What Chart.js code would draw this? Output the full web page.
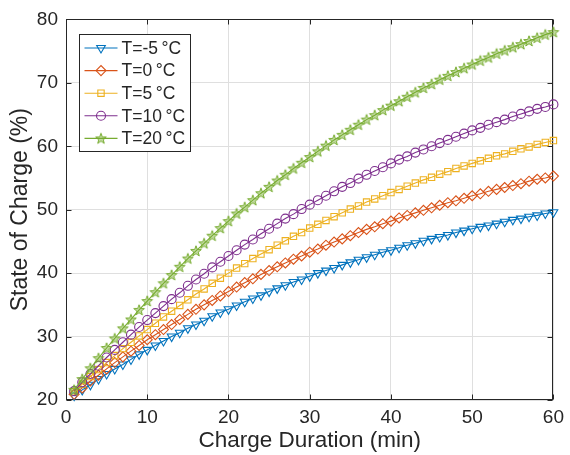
<!DOCTYPE html>
<html>
<head>
<meta charset="utf-8">
<script src="https://cdn.jsdelivr.net/npm/chart.js@4.4.1/dist/chart.umd.min.js"></script>
<style>
  html, body { margin: 0; padding: 0; background: #fff; }
  #wrap { width: 570px; height: 455px; position: relative; }
</style>
</head>
<body>
<div id="wrap"><canvas id="soc"></canvas></div>
<script>
// charge duration (min) and state of charge (%) per temperature
const minutes = [1, 2, 3, 4, 5, 6, 7, 8, 9, 10, 11, 12, 13, 14, 15, 16, 17, 18, 19, 20,
  21, 22, 23, 24, 25, 26, 27, 28, 29, 30, 31, 32, 33, 34, 35, 36, 37, 38, 39, 40,
  41, 42, 43, 44, 45, 46, 47, 48, 49, 50, 51, 52, 53, 54, 55, 56, 57, 58, 59, 60];

const socMinus5 = [20.7, 21.6, 22.4, 23.3, 24.1, 24.9, 25.6, 26.4, 27.2, 27.9, 28.6, 29.3, 30.0, 30.6, 31.3, 31.9, 32.5, 33.2, 33.8, 34.3,
  34.9, 35.5, 36.0, 36.5, 37.1, 37.6, 38.1, 38.6, 39.0, 39.5, 40.0, 40.4, 40.8, 41.3, 41.7, 42.1, 42.5, 42.9, 43.3, 43.6,
  44.0, 44.4, 44.7, 45.1, 45.4, 45.7, 46.0, 46.4, 46.7, 47.0, 47.3, 47.5, 47.8, 48.1, 48.4, 48.6, 48.9, 49.1, 49.4, 49.6];

const soc0 = [20.9, 21.9, 23.0, 23.9, 24.9, 25.9, 26.8, 27.7, 28.6, 29.5, 30.3, 31.1, 31.9, 32.7, 33.5, 34.3, 35.0, 35.7, 36.4, 37.1,
  37.8, 38.5, 39.1, 39.8, 40.4, 41.0, 41.6, 42.2, 42.7, 43.3, 43.8, 44.4, 44.9, 45.4, 45.9, 46.4, 46.9, 47.3, 47.8, 48.2,
  48.7, 49.1, 49.5, 49.9, 50.3, 50.7, 51.1, 51.4, 51.8, 52.2, 52.5, 52.9, 53.2, 53.5, 53.8, 54.1, 54.5, 54.8, 55.0, 55.3];

const soc5 = [21.3, 22.5, 23.7, 24.8, 25.9, 27.0, 28.1, 29.1, 30.1, 31.1, 32.1, 33.1, 34.0, 34.9, 35.8, 36.7, 37.5, 38.4, 39.2, 40.0,
  40.8, 41.5, 42.3, 43.0, 43.7, 44.4, 45.1, 45.8, 46.4, 47.1, 47.7, 48.3, 48.9, 49.5, 50.1, 50.6, 51.2, 51.7, 52.2, 52.7,
  53.2, 53.7, 54.2, 54.7, 55.1, 55.6, 56.0, 56.5, 56.9, 57.3, 57.7, 58.1, 58.5, 58.8, 59.2, 59.6, 59.9, 60.3, 60.6, 60.9];

const soc10 = [21.4, 22.8, 24.1, 25.4, 26.7, 27.9, 29.1, 30.3, 31.5, 32.6, 33.7, 34.8, 35.9, 36.9, 38.0, 39.0, 39.9, 40.9, 41.8, 42.7,
  43.6, 44.5, 45.3, 46.2, 47.0, 47.8, 48.6, 49.3, 50.1, 50.8, 51.5, 52.2, 52.9, 53.6, 54.2, 54.9, 55.5, 56.1, 56.7, 57.3,
  57.9, 58.4, 59.0, 59.5, 60.0, 60.5, 61.0, 61.5, 62.0, 62.5, 62.9, 63.4, 63.8, 64.2, 64.7, 65.1, 65.5, 65.9, 66.2, 66.6];

const soc20 = [21.6, 23.3, 25.0, 26.6, 28.2, 29.7, 31.3, 32.7, 34.2, 35.6, 37.0, 38.4, 39.7, 41.0, 42.3, 43.5, 44.7, 45.9, 47.1, 48.2,
  49.4, 50.4, 51.5, 52.6, 53.6, 54.6, 55.5, 56.5, 57.4, 58.3, 59.2, 60.1, 61.0, 61.8, 62.6, 63.4, 64.2, 64.9, 65.7, 66.4,
  67.1, 67.8, 68.5, 69.2, 69.8, 70.5, 71.1, 71.7, 72.3, 72.9, 73.5, 74.0, 74.6, 75.1, 75.6, 76.1, 76.6, 77.1, 77.6, 78.0];

const seriesLabels = ['T=-5\u2009°C', 'T=0\u2009°C', 'T=5\u2009°C', 'T=10\u2009°C', 'T=20\u2009°C'];
const xTicks = [0, 10, 20, 30, 40, 50, 60];
const yTicks = [20, 30, 40, 50, 60, 70, 80];

const FONT = '"Liberation Sans", Arial, Helvetica, sans-serif';
const AXIS_COLOR = '#262626';
const GRID_COLOR = '#dfdfdf';
const NONE = 'rgba(0,0,0,0)';

// matlab style pentagram, chart.js only has the asterisk one
function pentagram(color) {
  const c = document.createElement('canvas');
  c.width = 14;
  c.height = 14;
  const g = c.getContext('2d');
  g.beginPath();
  for (let i = 0; i < 10; i++) {
    const r = i % 2 === 0 ? 5.6 : 2.3;
    const a = -Math.PI / 2 + i * Math.PI / 5;
    const px = 7 + r * Math.cos(a);
    const py = 7.4 + r * Math.sin(a);
    if (i === 0) g.moveTo(px, py); else g.lineTo(px, py);
  }
  g.closePath();
  g.fillStyle = 'rgba(119,172,48,0.45)';
  g.fill();
  g.strokeStyle = color;
  g.lineWidth = 1;
  g.stroke();
  return c;
}

const toPoints = (ys) => minutes.map((m, i) => ({ x: m, y: ys[i] }));

function series(label, ys, color, style, radius, rotation) {
  return {
    label,
    data: toPoints(ys),
    borderColor: color,
    backgroundColor: color,
    borderWidth: 1.1,
    pointStyle: style,
    pointRadius: radius,
    pointRotation: rotation || 0,
    pointBorderColor: color,
    pointBackgroundColor: NONE,
    pointBorderWidth: 1.1,
    tension: 0,
    fill: false,
    clip: false
  };
}

const datasets = [
  series(seriesLabels[0], socMinus5, '#0072BD', 'triangle', 5, 180),
  series(seriesLabels[1], soc0, '#D95319', 'rectRot', 5),
  series(seriesLabels[2], soc5, '#EDB120', 'rect', 4.5),
  series(seriesLabels[3], soc10, '#7E2F8E', 'circle', 4.5),
  series(seriesLabels[4], soc20, '#77AC30', pentagram('#77AC30'), 5)
];
// later series on top, like matlab
datasets.forEach((d, i) => { d.order = datasets.length - i; });

// full box with inward ticks
const axesBox = {
  id: 'axesBox',
  beforeDatasetsDraw(chart) {
    const { ctx, chartArea: a, scales } = chart;
    const L = Math.round(a.left) + 0.5, R = Math.round(a.right) - 0.5;
    const T = Math.round(a.top) + 0.5, B = Math.round(a.bottom) - 0.5;
    const tl = 5;
    ctx.save();
    ctx.strokeStyle = AXIS_COLOR;
    ctx.lineWidth = 1;
    ctx.strokeRect(L, T, R - L, B - T);
    ctx.beginPath();
    xTicks.forEach(v => {
      const px = Math.round(scales.x.getPixelForValue(v)) + 0.5;
      ctx.moveTo(px, B); ctx.lineTo(px, B - tl);
      ctx.moveTo(px, T); ctx.lineTo(px, T + tl);
    });
    yTicks.forEach(v => {
      const py = Math.round(scales.y.getPixelForValue(v)) + 0.5;
      ctx.moveTo(L, py); ctx.lineTo(L + tl, py);
      ctx.moveTo(R, py); ctx.lineTo(R - tl, py);
    });
    ctx.stroke();
    ctx.restore();
  }
};

// boxed legend in the upper left corner of the axes
const boxLegend = {
  id: 'boxLegend',
  afterDraw(chart) {
    const ctx = chart.ctx;
    const a = chart.chartArea;
    const x0 = Math.round(a.left) + 13.5, y0 = Math.round(a.top) + 15.5;
    const w = 111, h = 117, row = 22.6;
    ctx.save();
    ctx.fillStyle = '#fff';
    ctx.fillRect(x0, y0, w, h);
    ctx.strokeStyle = AXIS_COLOR;
    ctx.lineWidth = 1;
    ctx.strokeRect(x0, y0, w, h);
    ctx.font = '17.5px ' + FONT;
    ctx.textBaseline = 'middle';
    chart.data.datasets.forEach((ds, i) => {
      const cy = y0 + 13.5 + i * row;
      ctx.strokeStyle = ds.borderColor;
      ctx.lineWidth = 1.1;
      ctx.beginPath();
      ctx.moveTo(x0 + 5, cy);
      ctx.lineTo(x0 + 38, cy);
      ctx.stroke();
      ctx.fillStyle = NONE;
      Chart.helpers.drawPoint(ctx, {
        pointStyle: ds.pointStyle,
        rotation: ds.pointRotation,
        radius: ds.pointRadius,
        borderWidth: 1.1
      }, x0 + 21.5, cy);
      ctx.fillStyle = AXIS_COLOR;
      ctx.fillText(ds.label, x0 + 42, cy + 1);
    });
    ctx.restore();
  }
};

new Chart(document.getElementById('soc'), {
  type: 'line',
  data: { datasets },
  options: {
    responsive: true,
    maintainAspectRatio: false,
    animation: false,
    layout: { padding: { left: 0, right: 12, top: 16, bottom: 0 } },
    plugins: { legend: { display: false }, tooltip: { enabled: false } },
    scales: {
      x: {
        type: 'linear',
        min: 0,
        max: 60,
        afterBuildTicks: s => { s.ticks = xTicks.map(v => ({ value: v })); },
        afterFit: s => { s.height = 55; },
        grid: { color: GRID_COLOR, drawTicks: false },
        border: { display: false },
        ticks: { color: AXIS_COLOR, font: { family: FONT, size: 19 }, padding: 6, maxRotation: 0 },
        title: {
          display: true,
          text: 'Charge Duration (min)',
          color: AXIS_COLOR,
          font: { family: FONT, size: 22.5 },
          padding: { top: 0, bottom: 1 }
        }
      },
      y: {
        type: 'linear',
        min: 20,
        max: 80,
        afterBuildTicks: s => { s.ticks = yTicks.map(v => ({ value: v })); },
        afterFit: s => { s.width = 66; },
        grid: { color: GRID_COLOR, drawTicks: false },
        border: { display: false },
        ticks: { color: AXIS_COLOR, font: { family: FONT, size: 19 }, padding: 8 },
        title: {
          display: true,
          text: 'State of Charge (%)',
          color: AXIS_COLOR,
          font: { family: FONT, size: 23 },
          padding: { top: 7, bottom: 0 }
        }
      }
    }
  },
  plugins: [axesBox, boxLegend]
});
</script>
</body>
</html>
